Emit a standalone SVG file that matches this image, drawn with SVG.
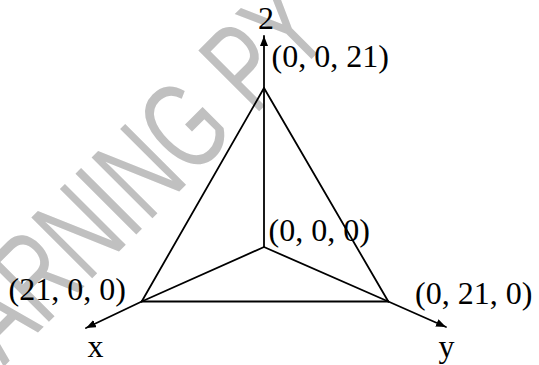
<svg xmlns="http://www.w3.org/2000/svg" width="539" height="365" viewBox="0 0 539 365">
<style>
.lbl{font-family:"Liberation Serif","Times New Roman",serif;font-size:32px;fill:#000}
.edge{stroke:#000;stroke-width:1.8;fill:none;stroke-linecap:round}
.wm{font-family:"Liberation Sans",Arial,sans-serif;font-size:125px;fill:#c0c0c0}
</style>
<defs>
<marker id="arr" viewBox="0 0 10 8" refX="10" refY="4" markerWidth="10" markerHeight="8" markerUnits="userSpaceOnUse" orient="auto">
<path d="M0,0 L10,4 L0,8 z" fill="#000"/>
</marker>
</defs>
<rect width="539" height="365" fill="#fff"/>
<g id="watermark">
<text class="wm" transform="translate(-69.7,440.3) rotate(-45) scale(0.68,1)">LEARNING PY</text>
</g>
<g id="connectors">
<line class="edge" x1="264" y1="247" x2="264" y2="36" marker-end="url(#arr)"/>
<line class="edge" x1="264" y1="247" x2="141.7" y2="301.5"/>
<line class="edge" x1="141.7" y1="301.5" x2="86" y2="328" marker-end="url(#arr)"/>
<line class="edge" x1="264" y1="247" x2="388.3" y2="301.5"/>
<line class="edge" x1="388.3" y1="301.5" x2="446" y2="327" marker-end="url(#arr)"/>
<line class="edge" x1="264" y1="88" x2="141.7" y2="301.5"/>
<line class="edge" x1="264" y1="88" x2="388.3" y2="301.5"/>
<line class="edge" x1="141.7" y1="301.5" x2="388.3" y2="301.5"/>
</g>
<g id="axis-z"><text class="lbl" x="258" y="29">2</text></g>
<g id="vertex-z"><text class="lbl" x="271.5" y="67">(0, 0, 21)</text></g>
<g id="origin"><text class="lbl" x="268.5" y="241">(0, 0, 0)</text></g>
<g id="vertex-x"><text class="lbl" x="8.5" y="300">(21, 0, 0)</text></g>
<g id="vertex-y"><text class="lbl" x="415" y="304">(0, 21, 0)</text></g>
<g id="axis-x"><text class="lbl" x="87.5" y="357">x</text></g>
<g id="axis-y"><text class="lbl" x="438.5" y="357">y</text></g>
</svg>
